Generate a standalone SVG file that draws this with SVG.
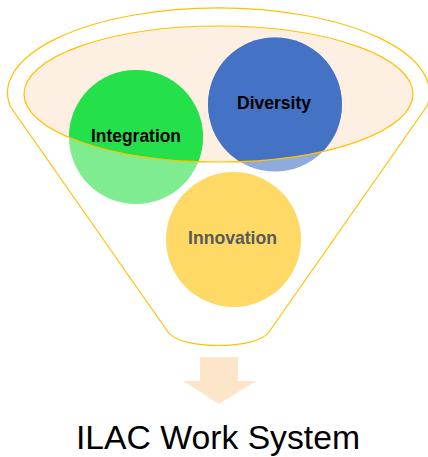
<svg xmlns="http://www.w3.org/2000/svg" width="428" height="457" viewBox="0 0 428 457">
<style>
.gold{fill:none;stroke:#FFC000;stroke-width:1.2}
.lbl{font-family:"Liberation Sans",Arial,sans-serif;font-weight:bold;font-size:18px;text-anchor:middle}
.title{font-family:"Liberation Sans",Arial,sans-serif;font-size:33.5px;text-anchor:middle;fill:#000}
</style>
<defs>
<clipPath id="inner"><ellipse cx="218.5" cy="94" rx="194.5" ry="68"/></clipPath>
</defs>
<rect width="428" height="457" fill="#fff"/>
<g id="funnel">
<path class="gold" d="M10,106 A211,85 0 1 1 427,106 L269,332 C257,350 180,350 168,332 Z"/>
<ellipse cx="218.5" cy="94" rx="194.5" ry="68" fill="#FDF0E2"/>
</g>
<g id="integration">
<circle cx="136" cy="137" r="67" fill="#7EEC8F"/>
<circle cx="136" cy="137" r="67" fill="#23E04B" clip-path="url(#inner)"/>
</g>
<g id="diversity">
<circle cx="275" cy="104.5" r="67" fill="#8FAADC"/>
<circle cx="275" cy="104.5" r="67" fill="#4472C4" clip-path="url(#inner)"/>
</g>
<ellipse class="gold" cx="218.5" cy="94" rx="194.5" ry="68"/>
<text class="lbl" x="136" y="142" textLength="90" lengthAdjust="spacingAndGlyphs" fill="#000">Integration</text>
<text class="lbl" x="274" y="109" textLength="74" lengthAdjust="spacingAndGlyphs" fill="#000">Diversity</text>
<g id="innovation">
<circle cx="233.5" cy="239.5" r="67.5" fill="#FFD966"/>
<text class="lbl" x="232.5" y="244" textLength="89" lengthAdjust="spacingAndGlyphs" fill="#595959">Innovation</text>
</g>
<g id="connectors">
<path d="M200,357 H238 V381 H256 L219,404 L183,381 H200 Z" fill="#FDE5CA"/>
</g>
<g id="output">
<text class="title" x="218" y="449" textLength="284" lengthAdjust="spacingAndGlyphs">ILAC Work System</text>
</g>
</svg>
